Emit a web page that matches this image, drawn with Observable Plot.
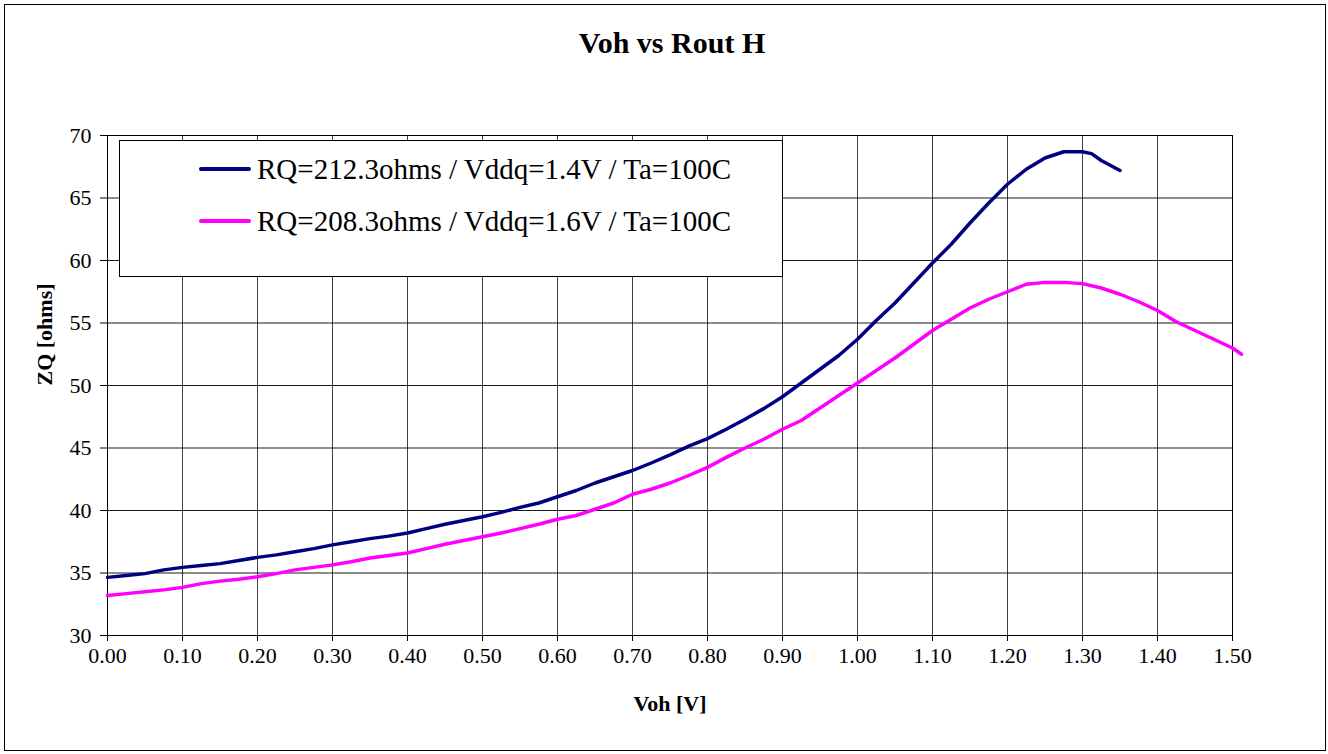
<!DOCTYPE html>
<html>
<head>
<meta charset="utf-8">
<script src="https://cdn.jsdelivr.net/npm/d3@7"></script>
<script src="https://cdn.jsdelivr.net/npm/@observablehq/plot@0.6"></script>
<style>
  html, body { margin: 0; padding: 0; background: #fff; }
  #wrap { position: relative; width: 1328px; height: 754px; font-family: "Liberation Serif", "DejaVu Serif", serif; overflow: hidden; }
  #border { position: absolute; left: 4px; top: 4px; width: 1322px; height: 747px; box-sizing: border-box; border: 1px solid #000; pointer-events: none; }
  #title { position: absolute; left: 8px; top: 28px; width: 1328px; text-align: center; font-family: "Liberation Serif", serif; font-weight: bold; font-size: 30px; line-height: 30px; color: #000; }
  #chart { position: absolute; left: 0; top: 100px; }
  #chart svg, #chart svg text { font-family: "Liberation Serif", serif !important; }
  #legend { position: absolute; left: 119px; top: 140px; width: 664px; height: 137px; box-sizing: border-box; border: 1px solid #000; background: #fff; }
  .key { position: absolute; height: 4px; width: 52px; border-radius: 2px; }
  .lab { position: absolute; font-family: "Liberation Serif", serif; font-size: 29px; line-height: 29px; white-space: nowrap; color: #000; }
</style>
</head>
<body>
<div id="wrap">
  <div id="title"></div>
  <div id="chart"></div>
  <div id="legend"></div>
  <div id="border"></div>
</div>
<script>
const chartTitle = "Voh vs Rout H";
const xLabel = "Voh [V]";
const yLabel = "ZQ [ohms]";
const seriesNames = ["RQ=212.3ohms / Vddq=1.4V / Ta=100C", "RQ=208.3ohms / Vddq=1.6V / Ta=100C"];
const seriesColors = ["#000080", "#FF00FF"];
const xTicks = [0, 0.1, 0.2, 0.3, 0.4, 0.5, 0.6, 0.7, 0.8, 0.9, 1.0, 1.1, 1.2, 1.3, 1.4, 1.5];
const yTicks = [30, 35, 40, 45, 50, 55, 60, 65, 70];

const voh1 = [0.000,0.025,0.050,0.075,0.100,0.125,0.150,0.175,0.200,0.225,0.250,0.275,0.300,0.325,0.350,0.375,0.400,0.425,0.450,0.475,0.500,0.525,0.550,0.575,0.600,0.625,0.650,0.675,0.700,0.725,0.750,0.775,0.800,0.825,0.850,0.875,0.900,0.925,0.950,0.975,1.000,1.025,1.050,1.075,1.100,1.125,1.150,1.175,1.200,1.225,1.250,1.275,1.300,1.312,1.325,1.350];
const zq1 = [34.65,34.8,34.95,35.25,35.45,35.6,35.75,36.0,36.25,36.45,36.7,36.95,37.25,37.5,37.75,37.95,38.2,38.55,38.9,39.2,39.5,39.85,40.25,40.6,41.1,41.6,42.2,42.7,43.2,43.8,44.45,45.15,45.75,46.5,47.3,48.15,49.1,50.2,51.3,52.4,53.7,55.2,56.6,58.2,59.8,61.3,63.0,64.6,66.1,67.3,68.2,68.7,68.7,68.55,68.0,67.2];

const voh2 = [0.000,0.025,0.050,0.075,0.100,0.125,0.150,0.175,0.200,0.225,0.250,0.275,0.300,0.325,0.350,0.375,0.400,0.425,0.450,0.475,0.500,0.525,0.550,0.575,0.600,0.625,0.650,0.675,0.700,0.725,0.750,0.775,0.800,0.825,0.850,0.875,0.900,0.925,0.950,0.975,1.000,1.025,1.050,1.075,1.100,1.125,1.150,1.175,1.200,1.225,1.250,1.275,1.300,1.325,1.350,1.375,1.400,1.425,1.450,1.475,1.500,1.512];
const zq2 = [33.2,33.35,33.5,33.65,33.85,34.15,34.35,34.5,34.7,34.95,35.25,35.45,35.65,35.9,36.2,36.4,36.6,36.95,37.3,37.6,37.9,38.2,38.55,38.9,39.3,39.6,40.1,40.6,41.3,41.7,42.2,42.8,43.45,44.25,45.0,45.7,46.5,47.2,48.2,49.2,50.2,51.2,52.2,53.3,54.4,55.3,56.2,56.9,57.5,58.1,58.25,58.25,58.15,57.8,57.3,56.7,56.0,55.1,54.4,53.7,53.0,52.5];

const data = [
  ...voh1.map((v, i) => ({voh: v, zq: zq1[i], series: seriesNames[0]})),
  ...voh2.map((v, i) => ({voh: v, zq: zq2[i], series: seriesNames[1]}))
];

document.getElementById("title").textContent = chartTitle;

const plot = Plot.plot({
  width: 1328,
  height: 654,
  marginTop: 35,
  marginBottom: 119,
  marginLeft: 107,
  marginRight: 96,
  style: {fontFamily: "Liberation Serif, serif", fontSize: "22px", color: "#000", background: "transparent", overflow: "visible"},
  x: {domain: [0, 1.5]},
  y: {domain: [30, 70]},
  color: {domain: seriesNames, range: seriesColors},
  marks: [
    Plot.gridX(xTicks, {stroke: "#000", strokeOpacity: 0.75, strokeWidth: 1}),
    Plot.gridY(yTicks, {stroke: "#000", strokeOpacity: 0.9, strokeWidth: 1}),
    Plot.frame({stroke: "#000", strokeWidth: 1}),
    Plot.axisX(xTicks, {tickSize: 6, tickPadding: 6, tickFormat: d3.format(".2f"), label: null, fontSize: 22, fontFamily: "Liberation Serif"}),
    Plot.axisY(yTicks, {tickSize: 7, tickPadding: 9, label: null, fontSize: 22, fontFamily: "Liberation Serif"}),
    Plot.line(data, {x: "voh", y: "zq", z: "series", stroke: "series", strokeWidth: 3.5, curve: "linear"}),
    Plot.text([xLabel], {frameAnchor: "bottom", dy: 75, fontWeight: "bold", fontSize: 22, fontFamily: "Liberation Serif"}),
    Plot.text([yLabel], {frameAnchor: "left", dx: -63, rotate: -90, fontWeight: "bold", fontSize: 22, fontFamily: "Liberation Serif"})
  ]
});
document.getElementById("chart").appendChild(plot);

const legend = document.getElementById("legend");
const rowTops = [28, 80];
seriesNames.forEach((name, i) => {
  const key = document.createElement("div");
  key.className = "key";
  key.style.left = (198 - 119) + "px";
  key.style.top = (rowTops[i] - 2) + "px";
  key.style.background = seriesColors[i];
  legend.appendChild(key);
  const lab = document.createElement("div");
  lab.className = "lab";
  lab.style.left = (256 - 119) + "px";
  lab.style.top = (rowTops[i] - 14) + "px";
  lab.textContent = name;
  legend.appendChild(lab);
});
</script>
</body>
</html>
